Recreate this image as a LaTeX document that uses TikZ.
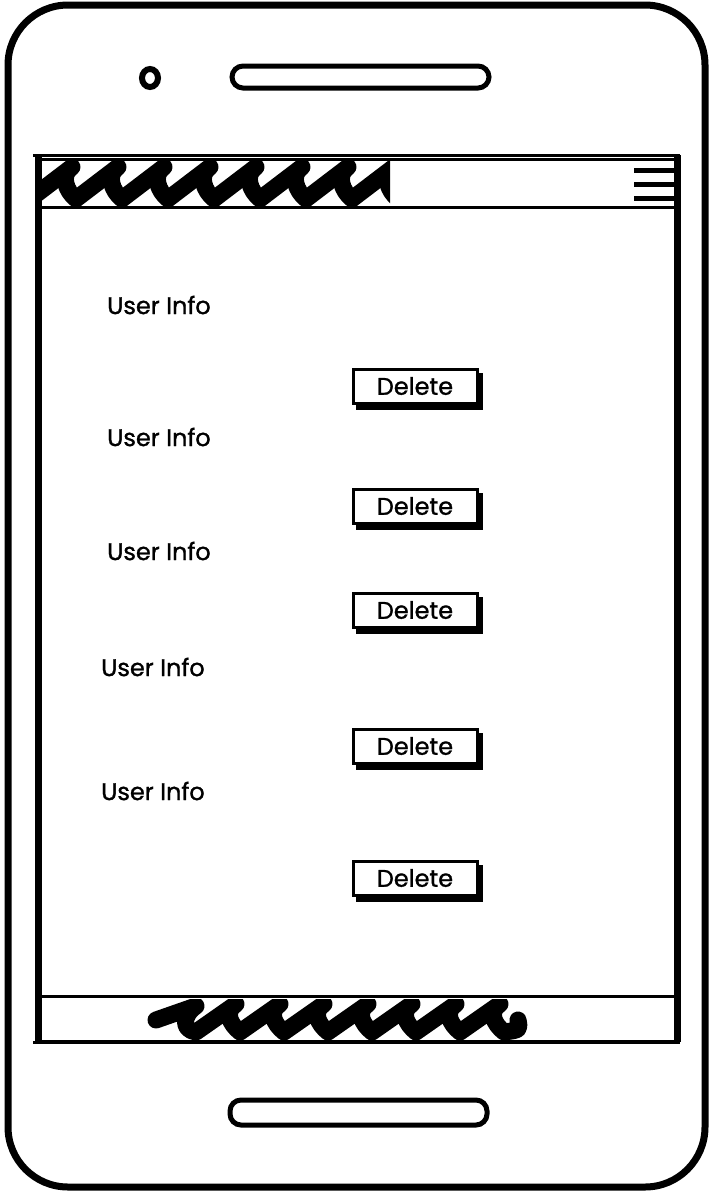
\documentclass[tikz,border=0pt]{standalone}
\usepackage{fontspec}
\setmainfont{Poppins}[FakeBold=1.2]
\usetikzlibrary{shadows}
\begin{document}
\begin{tikzpicture}[x=1pt,y=-1pt,
  outline/.style={draw=black, line width=7pt},
  speaker/.style={draw=black, line width=5pt, rounded corners=11pt},
  barline/.style={draw=black, line width=3pt},
  scrib/.style={draw=black, line width=17pt, line cap=round, line join=round},
  info/.style={anchor=west, font=\fontsize{24}{28}\selectfont, inner sep=0pt},
  btn/.style={draw=black, line width=3pt, fill=white, minimum width=124pt, minimum height=34pt, inner sep=0pt,
     font=\fontsize{24}{28}\selectfont,
     copy shadow={shadow xshift=4pt, shadow yshift=-5pt, fill=black, draw=black}},
  burger/.style={draw=black, line width=5pt}
]
\useasboundingbox (0,0) rectangle (712,1192);
% phone body
\draw[outline, rounded corners=60pt] (8,5) rectangle (705,1187);
% camera and speakers
\draw[line width=6pt] (150,78) ellipse (8pt and 9pt);
\draw[speaker] (232,66) rectangle (489,88);
\draw[speaker] (230,1100) rectangle (487,1125);
% screen
\draw[line width=3pt] (33,155) -- (680,155);
\draw[line width=3pt] (33,1042) -- (680,1042);
\draw[line width=7pt] (38,155) -- (38,1042);
\draw[line width=7pt] (677,155) -- (677,1042);
% top bar
\draw[barline] (36,159) rectangle (678,207);
\begin{scope}
\clip (38,161) rectangle (390,210);
\draw[scrib] (30,199)
  \foreach \i in {0,...,7} {
    -- ++(42,-32) .. controls +(-12,8) and +(-10,-8) .. ++(4,32)
  };
\end{scope}
\draw[burger] (634,170) -- (675,170);
\draw[burger] (634,184) -- (675,184);
\draw[burger] (634,198) -- (675,198);
% bottom bar
\draw[barline] (36,996) rectangle (676,1041);
\begin{scope}
\clip (38,999) rectangle (674,1044);
\draw[scrib] (156,1020) -- (196,1006)
  .. controls (182,1016) and (182,1030) .. (196,1032)
  \foreach \i in {0,...,6} {
    -- ++(40,-28) .. controls +(-12,8) and +(-10,-8) .. ++(4,28)
  } .. controls +(16,-2) and +(2,10) .. ++(14,-12);
\end{scope}
% content
\node[info] (u1) at (107,305) {User Info};
\node[info] (u2) at (107,437) {User Info};
\node[info] (u3) at (107,551) {User Info};
\node[info] (u4) at (101,667) {User Info};
\node[info] (u5) at (101,791) {User Info};
\node[btn] (b1) at (415,386) {Delete};
\node[btn] (b2) at (415,506) {Delete};
\node[btn] (b3) at (415,610) {Delete};
\node[btn] (b4) at (415,746) {Delete};
\node[btn] (b5) at (415,878) {Delete};
\end{tikzpicture}
\end{document}
